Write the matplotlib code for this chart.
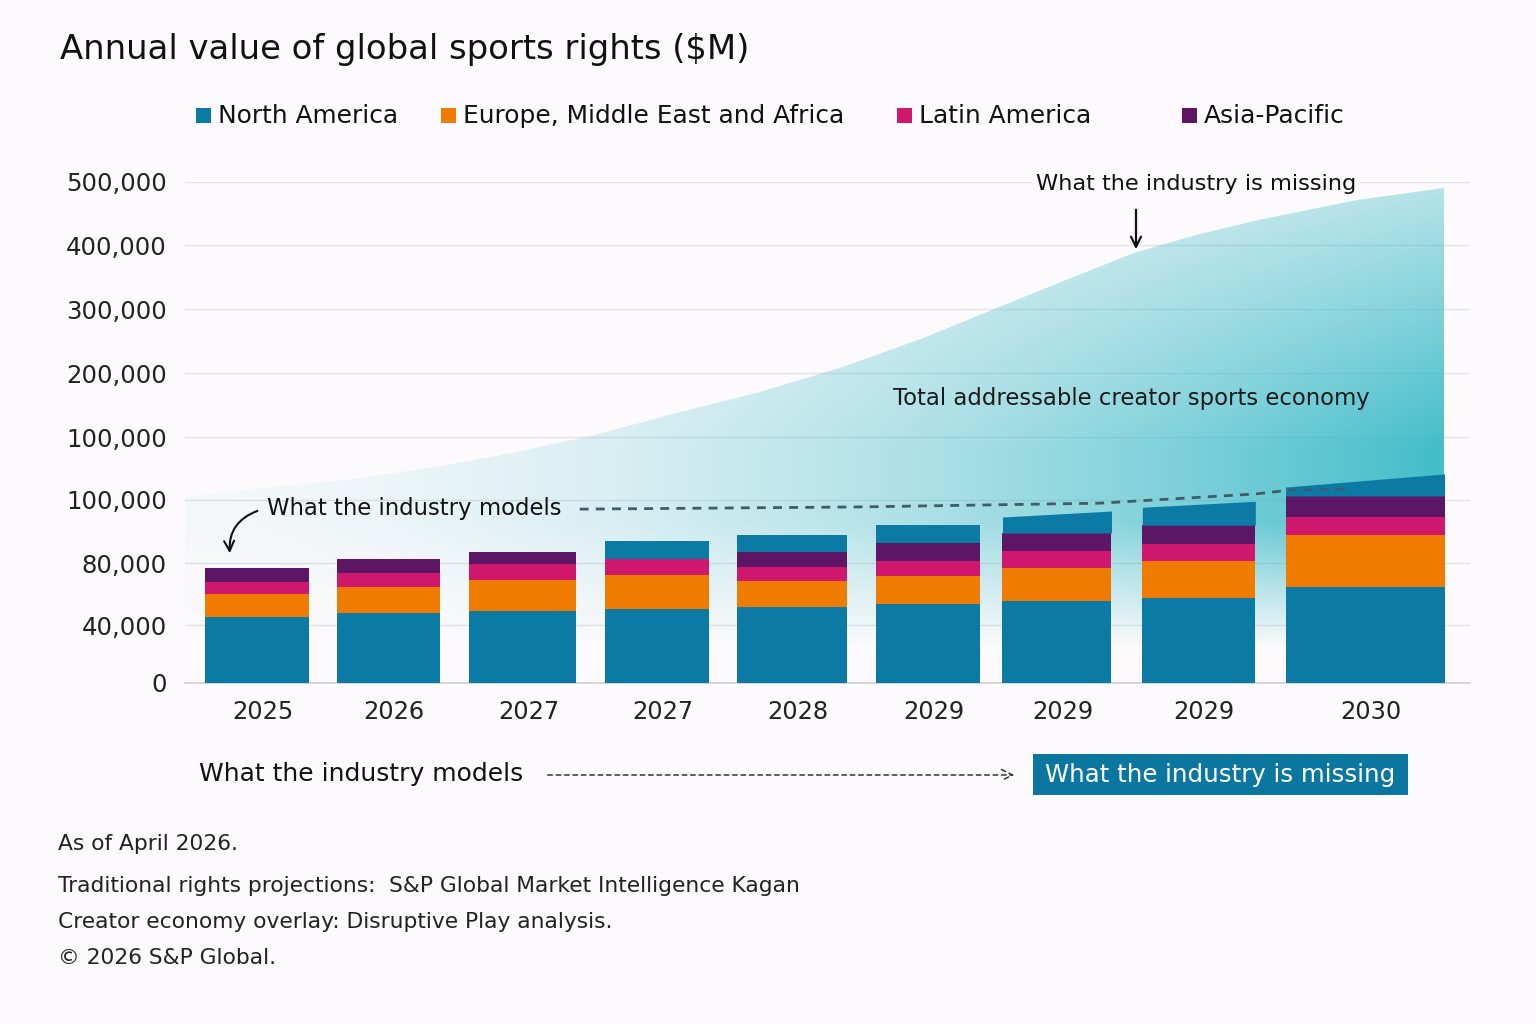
import numpy as np
import matplotlib
matplotlib.use("Agg")
import matplotlib.pyplot as plt
from matplotlib.patches import Rectangle, Polygon, FancyArrowPatch

# ---------------- data ----------------
years = ["2025", "2026", "2027", "2027", "2028", "2029", "2029", "2029", "2030"]
north_america = [45200, 47700, 49000, 50300, 51600, 53500, 55300, 57400, 64500]
emea = [14800, 16800, 20000, 21950, 16800, 18100, 21500, 23200, 24400]
latin_america = [7700, 9000, 10300, 9000, 9000, 9000, 7000, 5400, 5700]
asia_pacific = [9100, 7700, 4100, 0, 6100, 5700, 5700, 6000, 8600]
# extra North-America-coloured cap drawn above Asia-Pacific (left / right edge heights)
na_cap_left = [0, 0, 0, 5700, 5400, 5700, 5100, 5700, 7100]
na_cap_right = [0, 0, 0, 5700, 5400, 5700, 7000, 7600, 17500]

series_names = ["North America", "Europe, Middle East and Africa", "Latin America", "Asia-Pacific"]

# creator economy overlay (x in slot units, value in $M)
creator_x = [0.0, 0.563, 1.16, 1.762, 2.36, 2.96, 3.55, 4.152, 4.75, 5.35, 5.95,
             6.397, 6.85, 7.30, 7.75, 8.46, 9.09]
creator_total = [102400, 109500, 115900, 125400, 137300, 151600, 168750, 185200, 209400,
                 256250, 309400, 348400, 387500, 415900, 439700, 471400, 490500]

# "what the industry models" dashed trend
models_x = [2.85, 4.87, 6.61, 7.73, 7.98, 8.41]
models_val = [97100, 97800, 99000, 104800, 107900, 108700]

tick_values = [0, 40000, 80000, 100000, 150000, 200000, 300000, 400000, 500000]
tick_labels = ["0", "40,000", "80,000", "100,000", "100,000", "200,000", "300,000", "400,000", "500,000"]

# ---------------- layout / style ----------------
tick_px = [0, 58, 120, 183, 246, 310, 374, 438, 501]   # axis placement of the tick values
bar_x = [0.52, 1.466, 2.44, 3.408, 4.383, 5.365, 6.296, 7.32, 8.52]
bar_w = [0.75, 0.744, 0.773, 0.758, 0.80, 0.75, 0.787, 0.816, 1.148]
colors = ["#0b7ba6", "#ef7c00", "#cf176d", "#5d1566"]
BG = "#fcfafc"
plt.rcParams["font.family"] = ["DejaVu Sans"]

W, H = 1536, 1024
fig = plt.figure(figsize=(W / 100, H / 100), dpi=100, facecolor=BG)


def fx(x):
    return x / W


def fy(y):
    return 1 - y / H


tv = np.array(tick_values, float)
tp = np.array(tick_px, float)


def fwd(v):
    v = np.asarray(v, float)
    out = np.interp(v, tv, tp)
    out = np.where(v > tv[-1], tp[-1] + (v - tv[-1]) * (tp[-1] - tp[-2]) / (tv[-1] - tv[-2]), out)
    out = np.where(v < 0, v * tp[1] / tv[1], out)
    return out


def inv(p):
    p = np.asarray(p, float)
    out = np.interp(p, tp, tv)
    out = np.where(p > tp[-1], tv[-1] + (p - tp[-1]) * (tv[-1] - tv[-2]) / (tp[-1] - tp[-2]), out)
    out = np.where(p < 0, p * tv[1] / tp[1], out)
    return out


ax_l, ax_r, ax_top, ax_bot = 185, 1470, 182, 683
ax = fig.add_axes([fx(ax_l), fy(ax_bot), (ax_r - ax_l) / W, (ax_bot - ax_top) / H])
ax.set_facecolor("none")
ax.set_yscale("function", functions=(fwd, inv))
XMAX = (ax_r - ax_l) / 138.5

# ---------------- gradient overlay ----------------
nx, ny = ax_r - ax_l, ax_bot - ax_top
xx = np.arange(nx)[None, :]
hh = np.arange(ny)[:, None]
xf = np.clip(xx / 1260.0, 0, 1)
A = 0.04 + 0.9 * xf ** 1.7
L = np.clip((495 - hh) / 260.0, 0, 1)
vert = 0.38 + 0.62 * L
fade = np.clip((hh - 35) / 125.0, 0, 1)
alpha = np.clip(A * vert * fade, 0, 0.93)
rgba = np.zeros((ny, nx, 4))
rgba[..., 0] = 53 / 255
rgba[..., 1] = 185 / 255
rgba[..., 2] = 198 / 255
rgba[..., 3] = alpha
im = ax.imshow(rgba, extent=[0, 1, 0, 1], transform=ax.transAxes, origin="lower",
               aspect="auto", zorder=1, interpolation="bilinear")
verts = list(zip(creator_x, creator_total)) + [(creator_x[-1], 0), (creator_x[0], 0)]
clip_poly = Polygon(verts, closed=True, facecolor="none", edgecolor="none", transform=ax.transData)
ax.add_patch(clip_poly)
im.set_clip_path(clip_poly)

# ---------------- stacked bars ----------------
bottom = np.zeros(len(years))
for vals, c in zip([north_america, emea, latin_america, asia_pacific], colors):
    ax.bar(bar_x, vals, bottom=bottom, width=bar_w, color=c, edgecolor="none", zorder=3)
    bottom = bottom + np.array(vals)
for i in range(len(years)):
    if na_cap_left[i] > 0:
        l = bar_x[i] - bar_w[i] / 2
        r = bar_x[i] + bar_w[i] / 2
        ax.fill_between([l, r], [bottom[i], bottom[i]],
                        [bottom[i] + na_cap_left[i], bottom[i] + na_cap_right[i]],
                        color=colors[0], linewidth=0, zorder=3)

# dashed "models" line
ax.plot(models_x, models_val, color="#3f5c68", lw=2.0, ls=(0, (3.2, 2.6)), zorder=4)

# ---------------- axes styling ----------------
ax.set_xlim(0, XMAX)
ax.set_ylim(0, 500000)
ax.set_yticks(tick_values)
ax.set_yticklabels(tick_labels)
ax.set_xticks([x + 0.04 for x in bar_x])
ax.set_xticklabels(years)
ax.tick_params(axis="y", length=0, pad=13, labelsize=17.6, labelcolor="#222222")
ax.tick_params(axis="x", length=0, pad=12, labelsize=17.4, labelcolor="#222222")
ax.grid(axis="y", color="#e4e2e8", lw=1.0, zorder=0)
ax.set_axisbelow(True)
for s in ["top", "right", "left"]:
    ax.spines[s].set_visible(False)
ax.spines["bottom"].set_color("#cfcdd4")
ax.spines["bottom"].set_linewidth(1.2)

# ---------------- title & legend ----------------
fig.text(fx(60), fy(50), "Annual value of global sports rights ($M)", fontsize=24.4,
         color="#111111", va="center", ha="left")
leg_sq = [196, 441, 897, 1182]
for x0, name, c in zip(leg_sq, series_names, colors):
    fig.patches.append(Rectangle((fx(x0), fy(123)), 15 / W, 15 / H, transform=fig.transFigure,
                                 facecolor=c, edgecolor="none"))
    fig.text(fx(x0 + 22), fy(116), name, fontsize=17.9, color="#111111", va="center", ha="left")

# ---------------- annotations ----------------
fig.text(fx(1196), fy(184), "What the industry is missing", fontsize=16.2, color="#111111",
         ha="center", va="center",
         bbox=dict(facecolor=BG, edgecolor="none", pad=3))
fig.add_artist(FancyArrowPatch((fx(1136), fy(207)), (fx(1136), fy(252)),
                               transform=fig.transFigure, arrowstyle="->",
                               mutation_scale=18, lw=1.6, color="#111111"))
fig.text(fx(893), fy(399), "Total addressable creator sports economy", fontsize=16.4,
         color="#1a1a1a", ha="left", va="center")
fig.text(fx(267), fy(509), "What the industry models", fontsize=16.4, color="#111111",
         ha="left", va="center")
fig.add_artist(FancyArrowPatch((fx(260), fy(510)), (fx(230), fy(556)),
                               transform=fig.transFigure, arrowstyle="->",
                               connectionstyle="arc3,rad=0.4",
                               mutation_scale=18, lw=1.5, color="#111111"))

# bottom flow
fig.text(fx(199), fy(774), "What the industry models", fontsize=18, color="#111111",
         ha="left", va="center")
fig.add_artist(FancyArrowPatch((fx(545), fy(775)), (fx(1017), fy(775)),
                               transform=fig.transFigure, arrowstyle="->",
                               mutation_scale=20, lw=1.1, color="#333333",
                               linestyle=(0, (3, 2.5))))
fig.patches.append(Rectangle((fx(1033), fy(795)), (1408 - 1033) / W, (795 - 754) / H,
                             transform=fig.transFigure, facecolor="#0b77a0", edgecolor="none"))
fig.text(fx(1045), fy(775), "What the industry is missing", fontsize=17.6, color="white",
         ha="left", va="center")

# footnotes
notes = ["As of April 2026.",
         "Traditional rights projections:  S&P Global Market Intelligence Kagan",
         "Creator economy overlay: Disruptive Play analysis.",
         "\u00a9 2026 S&P Global."]
for y, t in zip([844, 886, 922, 958], notes):
    fig.text(fx(58), fy(y), t, fontsize=15.7, color="#222222", ha="left", va="center")

fig.savefig("out.png", dpi=100, facecolor=BG)
